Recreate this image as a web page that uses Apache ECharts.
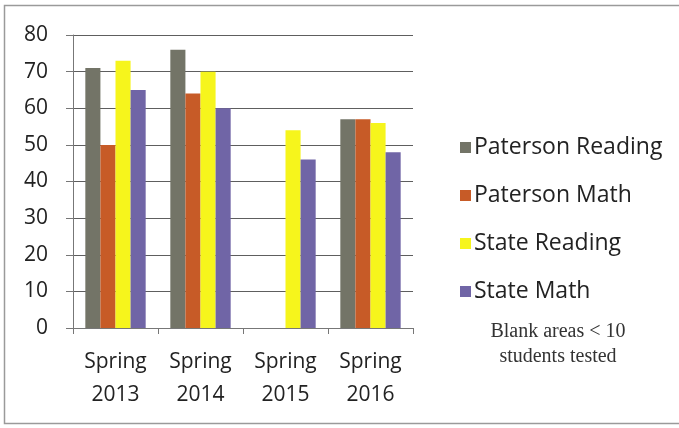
<!DOCTYPE html>
<html>
<head>
<meta charset="utf-8">
<script src="https://cdn.jsdelivr.net/npm/echarts@6/dist/echarts.min.js"></script>
<style>html,body{margin:0;padding:0;background:#fff}#c{width:679px;height:428px}</style>
</head>
<body>
<div id="c"></div>
<script>
var categories = ['Spring\n2013', 'Spring\n2014', 'Spring\n2015', 'Spring\n2016'];
var seriesNames = ['Paterson Reading', 'Paterson Math', 'State Reading', 'State Math'];
var patersonReading = [71, 76, null, 57];
var patersonMath = [50, 64, null, 57];
var stateReading = [73, 70, 54, 56];
var stateMath = [65, 60, 46, 48];
var yTicks = [0, 80, 10];
var note = 'Blank areas < 10\nstudents tested';

var colors = ['#737467', '#c75b27', '#f6f51c', '#7065a6'];
var font = 'Open Sans';
var chart = echarts.init(document.getElementById('c'), null, {renderer: 'canvas'});
var values = [patersonReading, patersonMath, stateReading, stateMath];
chart.setOption({
  animation: false,
  color: colors,
  graphic: [
    {type: 'rect', shape: {x: 4.5, y: 5.5, width: 700, height: 418}, style: {fill: 'none', stroke: '#9a9a9a', lineWidth: 1.5}},
    {type: 'text', x: 558, y: 319, style: {text: note, font: '20px "Liberation Serif"', fill: '#333', textAlign: 'center', lineHeight: 25}}
  ],
  grid: {left: 73, right: 266, top: 35, bottom: 100},
  legend: {
    orient: 'vertical', left: 455, top: 131, itemGap: 25, icon: 'rect', itemWidth: 11, itemHeight: 11,
    textStyle: {fontFamily: font, fontSize: 23, color: '#222', padding: [0, 0, 0, -2]},
    data: seriesNames
  },
  xAxis: {
    type: 'category', data: categories,
    axisLine: {lineStyle: {color: '#777', width: 1}},
    axisTick: {show: true, length: 6, lineStyle: {color: '#777'}},
    axisLabel: {fontFamily: font, fontSize: 21, color: '#222', lineHeight: 33, margin: 18}
  },
  yAxis: {
    type: 'value', min: yTicks[0], max: yTicks[1], interval: yTicks[2],
    axisLine: {show: true, lineStyle: {color: '#777'}},
    axisTick: {show: true, length: 7, lineStyle: {color: '#777'}},
    splitLine: {lineStyle: {color: '#5e5e5e', width: 1}},
    axisLabel: {fontFamily: font, fontSize: 21, color: '#222', margin: 25}
  },
  series: seriesNames.map(function (n, i) {
    return {name: n, type: 'bar', data: values[i], barGap: '0%', barCategoryGap: '29%'};
  })
});
</script>
</body>
</html>
